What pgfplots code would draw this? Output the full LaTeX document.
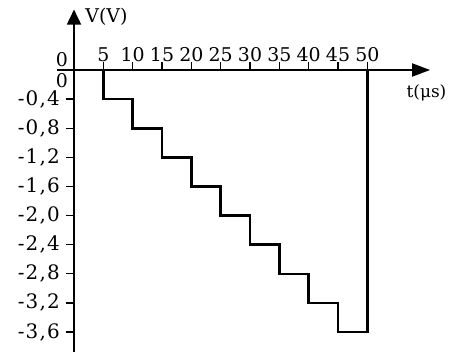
\documentclass[border=0pt]{standalone}
\usepackage{fontspec}
\setmainfont{DejaVu Serif}
\newfontfamily\tickfont[LetterSpace=6]{DejaVu Serif}
\usepackage{pgfplots}
\pgfplotsset{compat=1.18}
\usetikzlibrary{arrows.meta}

\begin{document}
\fontsize{19}{23}\selectfont
\begin{tikzpicture}
% page = 450 x 352 bp, axis origin at (74,70) from the top left
\useasboundingbox (-74bp,-282bp) rectangle (376bp,70bp);
\begin{axis}[
    at={(0,0)}, anchor=origin,
    x=5.867bp, y=72.8bp,
    axis lines=middle,
    axis line style={line width=1.8bp},
    x axis line style={-{Triangle[length=18bp,width=13bp]}},
    y axis line style={-{Triangle[length=15bp,width=14bp]}},
    xmin=-2.9, xmax=60.7,
    ymin=-4.2, ymax=0.83,
    clip=false,
    xtick={5,10,15,20,25,30,35,40,45,50},
    ytick={-3.6,-3.2,-2.8,-2.4,-2.0,-1.6,-1.2,-0.8,-0.4},
    yticklabels={{-3,6},{-3,2},{-2,8},{-2,4},{-2,0},{-1,6},{-1,2},{-0,8},{-0,4}},
    /pgf/number format/assume math mode=true,
    major tick length=8bp,
    tick style={line width=1.3bp, black},
    xtick style={yshift=4bp},
    ytick style={xshift=-4bp},
    xticklabel style={font=\fontsize{19}{23}\selectfont, anchor=base, inner sep=0pt, yshift=13bp},
    yticklabel style={font=\tickfont\fontsize{20}{24}\selectfont, anchor=east, inner sep=0pt, xshift=-10bp},
]
\addplot[line width=2.6bp, black] coordinates {
    (5,0) (5,-0.4) (10,-0.4) (10,-0.8) (15,-0.8) (15,-1.2) (20,-1.2)
    (20,-1.6) (25,-1.6) (25,-2.0) (30,-2.0) (30,-2.4) (35,-2.4)
    (35,-2.8) (40,-2.8) (40,-3.2) (45,-3.2) (45,-3.6) (50,-3.6) (50,0)
};
\node[anchor=east, inner sep=0pt] at (axis cs:-1.0,0.137) {0};
\node[anchor=east, inner sep=0pt] at (axis cs:-1.0,-0.151) {0};
\node[anchor=west, inner sep=0pt] at (axis cs:1.9,0.728) {V(V)};
\node[anchor=east, inner sep=0pt, font=\fontsize{17}{20}\selectfont] at (axis cs:63.5,-0.316) {t(μs)};
\end{axis}
\end{tikzpicture}
\end{document}
